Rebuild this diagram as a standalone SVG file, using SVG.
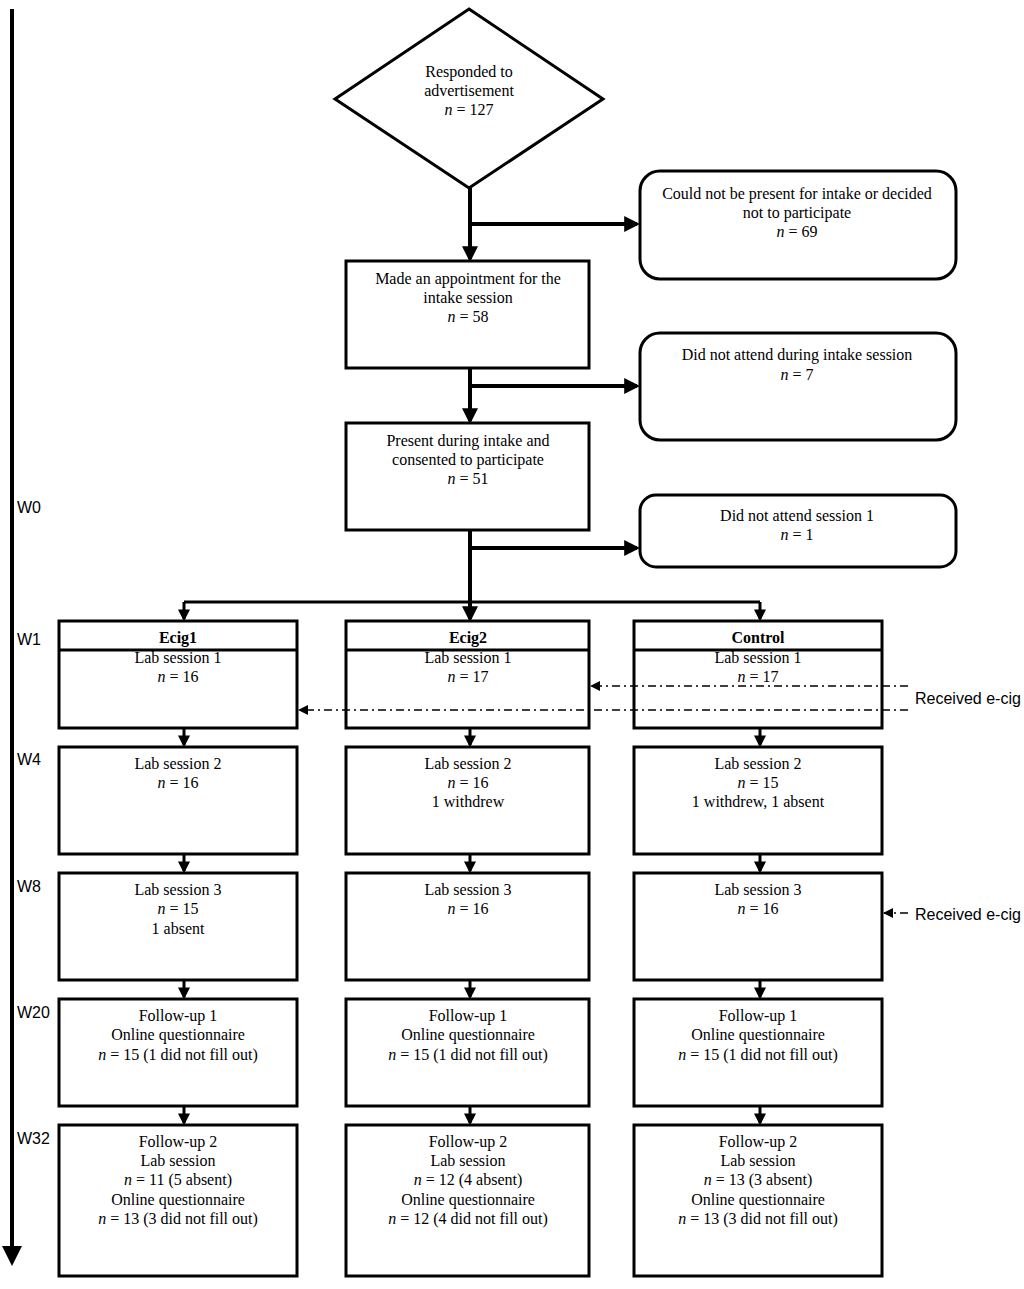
<svg xmlns="http://www.w3.org/2000/svg" width="1024" height="1289" viewBox="0 0 1024 1289">
<defs>
<marker id="ah" markerWidth="4" markerHeight="4" refX="3.2" refY="2" orient="auto" markerUnits="strokeWidth"><path d="M0,0 L4,2 L0,4 Z" fill="#000"/></marker>
<marker id="ah2" markerWidth="5" markerHeight="5" refX="4" refY="2.5" orient="auto" markerUnits="strokeWidth"><path d="M0,0 L5,2.5 L0,5 Z" fill="#000"/></marker>
<marker id="ahd" markerWidth="10" markerHeight="10" refX="9" refY="5" orient="auto" markerUnits="userSpaceOnUse"><path d="M0,0 L10,5 L0,10 Z" fill="#000"/></marker>
</defs>
<style>
.box{fill:#fff;stroke:#000;stroke-width:3}
.t{font-family:"Liberation Serif","Times New Roman",serif;font-size:16px;text-anchor:middle;fill:#000}
.b{font-weight:bold}
.w{font-family:"Liberation Sans",Arial,sans-serif;font-size:16px;fill:#000}
.main{stroke:#000;stroke-width:4;fill:none}
.col{stroke:#000;stroke-width:3;fill:none}
.dash{stroke:#000;stroke-width:1.3;fill:none;stroke-dasharray:8,4,2,4}
</style>
<rect width="1024" height="1289" fill="#fff"/>
<g id="timeline">
<line x1="12" y1="9" x2="12" y2="1262" stroke="#000" stroke-width="4" marker-end="url(#ah2)"/>
<text class="w" x="17" y="513">W0</text>
<text class="w" x="17" y="645">W1</text>
<text class="w" x="17" y="765">W4</text>
<text class="w" x="17" y="892">W8</text>
<text class="w" x="17" y="1018">W20</text>
<text class="w" x="17" y="1144">W32</text>
</g>
<g id="connectors">
<line class="main" x1="470" y1="188" x2="470" y2="259" marker-end="url(#ah)"/>
<line class="main" x1="470" y1="224" x2="637" y2="224" marker-end="url(#ah)"/>
<line class="main" x1="470" y1="368" x2="470" y2="421" marker-end="url(#ah)"/>
<line class="main" x1="470" y1="386" x2="637" y2="386" marker-end="url(#ah)"/>
<line class="main" x1="470" y1="530" x2="470" y2="619" marker-end="url(#ah)"/>
<line class="main" x1="470" y1="548" x2="637" y2="548" marker-end="url(#ah)"/>
<line class="col" x1="184" y1="602" x2="760" y2="602"/>
<line class="col" x1="184" y1="602" x2="184" y2="619" marker-end="url(#ah)"/>
<line class="col" x1="760" y1="602" x2="760" y2="619" marker-end="url(#ah)"/>
<line class="col" x1="184" y1="729" x2="184" y2="745" marker-end="url(#ah)"/>
<line class="col" x1="470" y1="729" x2="470" y2="745" marker-end="url(#ah)"/>
<line class="col" x1="760" y1="729" x2="760" y2="745" marker-end="url(#ah)"/>
<line class="col" x1="184" y1="855" x2="184" y2="871" marker-end="url(#ah)"/>
<line class="col" x1="470" y1="855" x2="470" y2="871" marker-end="url(#ah)"/>
<line class="col" x1="760" y1="855" x2="760" y2="871" marker-end="url(#ah)"/>
<line class="col" x1="184" y1="981" x2="184" y2="997" marker-end="url(#ah)"/>
<line class="col" x1="470" y1="981" x2="470" y2="997" marker-end="url(#ah)"/>
<line class="col" x1="760" y1="981" x2="760" y2="997" marker-end="url(#ah)"/>
<line class="col" x1="184" y1="1107" x2="184" y2="1123" marker-end="url(#ah)"/>
<line class="col" x1="470" y1="1107" x2="470" y2="1123" marker-end="url(#ah)"/>
<line class="col" x1="760" y1="1107" x2="760" y2="1123" marker-end="url(#ah)"/>
</g>
<g id="n-responded">
<polygon class="box" points="469,9 603,99 469,188 335,99"/>
<text class="t" x="469" y="77">Responded to</text>
<text class="t" x="469" y="96">advertisement</text>
<text class="t" x="469" y="115"><tspan font-style="italic">n</tspan> = 127</text>
</g>
<g id="n-notpresent">
<rect class="box" x="640" y="171" width="316" height="108" rx="20"/>
<text class="t" x="797" y="199">Could not be present for intake or decided</text>
<text class="t" x="797" y="218">not to participate</text>
<text class="t" x="797" y="237"><tspan font-style="italic">n</tspan> = 69</text>
</g>
<g id="n-appointment">
<rect class="box" x="346" y="261" width="243" height="107"/>
<text class="t" x="468" y="284">Made an appointment for the</text>
<text class="t" x="468" y="303">intake session</text>
<text class="t" x="468" y="322"><tspan font-style="italic">n</tspan> = 58</text>
</g>
<g id="n-notattend">
<rect class="box" x="640" y="333" width="316" height="107" rx="20"/>
<text class="t" x="797" y="360">Did not attend during intake session</text>
<text class="t" x="797" y="380"><tspan font-style="italic">n</tspan> = 7</text>
</g>
<g id="n-present">
<rect class="box" x="346" y="423" width="243" height="107"/>
<text class="t" x="468" y="446">Present during intake and</text>
<text class="t" x="468" y="465">consented to participate</text>
<text class="t" x="468" y="484"><tspan font-style="italic">n</tspan> = 51</text>
</g>
<g id="n-notsession1">
<rect class="box" x="640" y="495" width="316" height="72" rx="16"/>
<text class="t" x="797" y="521">Did not attend session 1</text>
<text class="t" x="797" y="540"><tspan font-style="italic">n</tspan> = 1</text>
</g>
<g id="n-ecig1-s1">
<rect class="box" x="59" y="621" width="238" height="107"/>
<line x1="59" y1="650" x2="297" y2="650" stroke="#000" stroke-width="3"/>
<text class="t b" x="178" y="643">Ecig1</text>
<text class="t" x="178" y="663">Lab session 1</text>
<text class="t" x="178" y="682"><tspan font-style="italic">n</tspan> = 16</text>
</g>
<g id="n-ecig2-s1">
<rect class="box" x="346" y="621" width="243" height="107"/>
<line x1="346" y1="650" x2="589" y2="650" stroke="#000" stroke-width="3"/>
<text class="t b" x="468" y="643">Ecig2</text>
<text class="t" x="468" y="663">Lab session 1</text>
<text class="t" x="468" y="682"><tspan font-style="italic">n</tspan> = 17</text>
</g>
<g id="n-control-s1">
<rect class="box" x="634" y="621" width="248" height="107"/>
<line x1="634" y1="650" x2="882" y2="650" stroke="#000" stroke-width="3"/>
<text class="t b" x="758" y="643">Control</text>
<text class="t" x="758" y="663">Lab session 1</text>
<text class="t" x="758" y="682"><tspan font-style="italic">n</tspan> = 17</text>
</g>
<g id="n-ecig-received">
<line class="dash" x1="908" y1="686" x2="591" y2="686" marker-end="url(#ahd)"/>
<line class="dash" x1="908" y1="710" x2="299" y2="710" marker-end="url(#ahd)"/>
<text class="w" x="915" y="704">Received e-cig</text>
<line class="dash" x1="908" y1="913" x2="884" y2="913" stroke-dasharray="4,4,8,4" marker-end="url(#ahd)"/>
<text class="w" x="915" y="920">Received e-cig</text>
</g>
<g id="n-ecig1-s2">
<rect class="box" x="59" y="747" width="238" height="107"/>
<text class="t" x="178" y="769">Lab session 2</text>
<text class="t" x="178" y="788"><tspan font-style="italic">n</tspan> = 16</text>
</g>
<g id="n-ecig2-s2">
<rect class="box" x="346" y="747" width="243" height="107"/>
<text class="t" x="468" y="769">Lab session 2</text>
<text class="t" x="468" y="788"><tspan font-style="italic">n</tspan> = 16</text>
<text class="t" x="468" y="807">1 withdrew</text>
</g>
<g id="n-control-s2">
<rect class="box" x="634" y="747" width="248" height="107"/>
<text class="t" x="758" y="769">Lab session 2</text>
<text class="t" x="758" y="788"><tspan font-style="italic">n</tspan> = 15</text>
<text class="t" x="758" y="807">1 withdrew, 1 absent</text>
</g>
<g id="n-ecig1-s3">
<rect class="box" x="59" y="873" width="238" height="107"/>
<text class="t" x="178" y="895">Lab session 3</text>
<text class="t" x="178" y="914"><tspan font-style="italic">n</tspan> = 15</text>
<text class="t" x="178" y="934">1 absent</text>
</g>
<g id="n-ecig2-s3">
<rect class="box" x="346" y="873" width="243" height="107"/>
<text class="t" x="468" y="895">Lab session 3</text>
<text class="t" x="468" y="914"><tspan font-style="italic">n</tspan> = 16</text>
</g>
<g id="n-control-s3">
<rect class="box" x="634" y="873" width="248" height="107"/>
<text class="t" x="758" y="895">Lab session 3</text>
<text class="t" x="758" y="914"><tspan font-style="italic">n</tspan> = 16</text>
</g>
<g id="n-ecig1-f1">
<rect class="box" x="59" y="999" width="238" height="107"/>
<text class="t" x="178" y="1021">Follow-up 1</text>
<text class="t" x="178" y="1040">Online questionnaire</text>
<text class="t" x="178" y="1060"><tspan font-style="italic">n</tspan> = 15 (1 did not fill out)</text>
</g>
<g id="n-ecig2-f1">
<rect class="box" x="346" y="999" width="243" height="107"/>
<text class="t" x="468" y="1021">Follow-up 1</text>
<text class="t" x="468" y="1040">Online questionnaire</text>
<text class="t" x="468" y="1060"><tspan font-style="italic">n</tspan> = 15 (1 did not fill out)</text>
</g>
<g id="n-control-f1">
<rect class="box" x="634" y="999" width="248" height="107"/>
<text class="t" x="758" y="1021">Follow-up 1</text>
<text class="t" x="758" y="1040">Online questionnaire</text>
<text class="t" x="758" y="1060"><tspan font-style="italic">n</tspan> = 15 (1 did not fill out)</text>
</g>
<g id="n-ecig1-f2">
<rect class="box" x="59" y="1125" width="238" height="151"/>
<text class="t" x="178" y="1147">Follow-up 2</text>
<text class="t" x="178" y="1166">Lab session</text>
<text class="t" x="178" y="1185"><tspan font-style="italic">n</tspan> = 11 (5 absent)</text>
<text class="t" x="178" y="1205">Online questionnaire</text>
<text class="t" x="178" y="1224"><tspan font-style="italic">n</tspan> = 13 (3 did not fill out)</text>
</g>
<g id="n-ecig2-f2">
<rect class="box" x="346" y="1125" width="243" height="151"/>
<text class="t" x="468" y="1147">Follow-up 2</text>
<text class="t" x="468" y="1166">Lab session</text>
<text class="t" x="468" y="1185"><tspan font-style="italic">n</tspan> = 12 (4 absent)</text>
<text class="t" x="468" y="1205">Online questionnaire</text>
<text class="t" x="468" y="1224"><tspan font-style="italic">n</tspan> = 12 (4 did not fill out)</text>
</g>
<g id="n-control-f2">
<rect class="box" x="634" y="1125" width="248" height="151"/>
<text class="t" x="758" y="1147">Follow-up 2</text>
<text class="t" x="758" y="1166">Lab session</text>
<text class="t" x="758" y="1185"><tspan font-style="italic">n</tspan> = 13 (3 absent)</text>
<text class="t" x="758" y="1205">Online questionnaire</text>
<text class="t" x="758" y="1224"><tspan font-style="italic">n</tspan> = 13 (3 did not fill out)</text>
</g>
</svg>
